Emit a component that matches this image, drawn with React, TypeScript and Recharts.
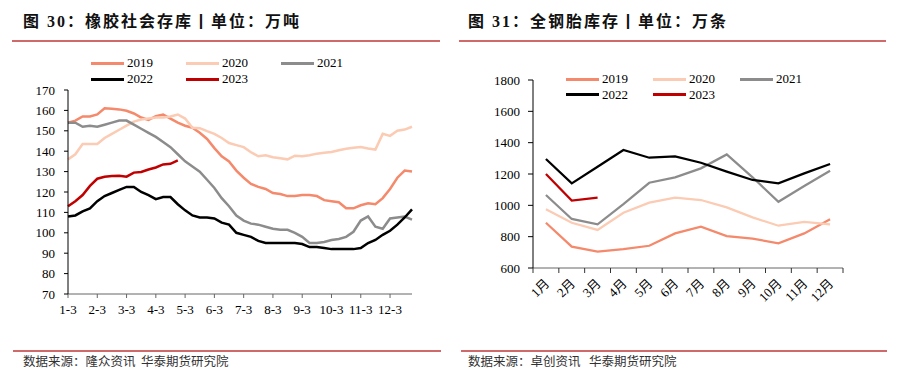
import React from 'react';
import { LineChart, Line, XAxis, YAxis } from 'recharts';

// 橡胶社会库存, weekly, 万吨
const monthNums = [1, 2, 3, 4, 5, 6, 7, 8, 9, 10, 11, 12];
const weekDays = [3, 10, 17, 24];
const weekLabels = monthNums.flatMap((m) => weekDays.map((d) => `${m}-${d}`));

const rubber2019 = [
  154, 155, 157, 157, 158, 161, 160.8, 160.5, 159.8, 158.5, 156.5, 155.3,
  157.2, 158, 156, 154, 152.5, 151.5, 149, 146, 141.5, 137.5, 135, 130.5,
  127, 124, 122.5, 121.5, 119.5, 119, 118, 118, 118.5, 118.5, 118, 116,
  115.5, 115, 112, 112, 113.5, 114.5, 114, 117, 121.5, 127, 130.5, 130,
];
const rubber2020 = [
  136, 138.5, 143.5, 143.5, 143.5, 146.5, 148.5, 150.5, 152.5, 154.5, 155.5, 156,
  156.5, 156.5, 157, 158, 156, 151.5, 151.3, 149.8, 148.5, 146.5, 144, 143,
  142, 139.5, 137.5, 138, 137, 136.5, 136, 137.8, 137.5, 138, 138.8, 139.2,
  139.6, 140.5, 141.2, 141.7, 142, 141.3, 140.8, 148.5, 147.5, 150, 150.6, 152,
];
const rubber2021 = [
  154, 154, 152, 152.5, 152, 153, 154, 155, 155, 153, 151, 149,
  147, 144.5, 142, 138.5, 135, 132.5, 130, 126, 122, 117, 113, 108.5,
  106, 104.5, 104, 103, 102, 101.5, 101.5, 100, 98, 95, 95, 95.5,
  96.5, 97, 98, 100.5, 106, 108, 103, 102, 107, 107.5, 108, 106.5,
];
const rubber2022 = [
  108, 108.5, 110.5, 112, 115.5, 118, 119.5, 121, 122.5, 122.5, 120, 118.5,
  116.5, 117.5, 117.5, 114, 111, 108.5, 107.5, 107.5, 107, 105, 104, 100,
  99, 98, 96, 95, 95, 95, 95, 95, 94.5, 93, 93, 92.5,
  92, 92, 92, 92, 92.5, 95, 96.5, 99, 101, 104, 107.5, 111.5,
];
const rubber2023 = [
  113, 115.5, 118.5, 123, 126.5, 127.5, 127.8, 128, 127.5, 129.5, 129.8, 131,
  132, 133.5, 133.8, 135.5,
];

// 全钢胎库存, monthly, 万条
const tireMonths = ['1月', '2月', '3月', '4月', '5月', '6月', '7月', '8月', '9月', '10月', '11月', '12月'];
const tire2019 = [889, 736, 704, 721, 742, 821, 864, 804, 787, 758, 821, 911];
const tire2020 = [975, 889, 843, 953, 1017, 1049, 1034, 987, 923, 870, 895, 879];
const tire2021 = [1066, 913, 879, 1008, 1144, 1179, 1236, 1325, 1179, 1023, 1123, 1221];
const tire2022 = [1296, 1140, 1246, 1353, 1304, 1312, 1272, 1215, 1162, 1140, 1204, 1264];
const tire2023 = [1200, 1030, 1049];

const years = ['2019', '2020', '2021', '2022', '2023'];
const colors: Record<string, string> = {
  '2019': '#F4896B',
  '2020': '#FBCBB3',
  '2021': '#8C8C8C',
  '2022': '#000000',
  '2023': '#C00000',
};

const rubberData = weekLabels.map((w, i) => ({
  week: w,
  '2019': rubber2019[i],
  '2020': rubber2020[i],
  '2021': rubber2021[i],
  '2022': rubber2022[i],
  '2023': rubber2023[i],
}));

const tireData = tireMonths.map((m, i) => ({
  month: m,
  '2019': tire2019[i],
  '2020': tire2020[i],
  '2021': tire2021[i],
  '2022': tire2022[i],
  '2023': tire2023[i],
}));

const serif = "'Liberation Serif', 'Times New Roman', serif";
const titleFont = "'Liberation Serif', 'Noto Sans CJK SC', sans-serif";
const cjk = "'Noto Sans CJK SC', sans-serif";
const ruleColor = '#D06A6A';

function Legend({ left, top, colGap, rowGap }: { left: number; top: number; colGap: number; rowGap: number }) {
  return (
    <>
      {years.map((y, i) => (
        <div
          key={y}
          style={{
            position: 'absolute',
            left: left + (i % 3) * colGap,
            top: top + Math.floor(i / 3) * rowGap - 8,
            height: 16,
            display: 'flex',
            alignItems: 'center',
            fontFamily: serif,
            fontSize: 13,
            color: '#000',
          }}
        >
          <span style={{ display: 'inline-block', width: 33, height: 3, background: colors[y], marginRight: 3 }} />
          {y}
        </div>
      ))}
    </>
  );
}

function Title({ left, text }: { left: number; text: string }) {
  return (
    <div
      style={{
        position: 'absolute',
        left,
        top: 8,
        fontFamily: titleFont,
        fontWeight: 700,
        fontSize: 16,
        letterSpacing: 2,
        color: '#111',
        whiteSpace: 'nowrap',
      }}
    >
      {text}
    </div>
  );
}

function Rule({ left, top, width }: { left: number; top: number; width: number }) {
  return <div style={{ position: 'absolute', left, top, width, height: 1.5, background: ruleColor }} />;
}

function Footer({ left, text }: { left: number; text: string }) {
  return (
    <div
      style={{
        position: 'absolute',
        left,
        top: 351,
        fontFamily: cjk,
        fontSize: 12.5,
        color: '#333',
        whiteSpace: 'pre',
      }}
    >
      {text}
    </div>
  );
}

// right chart plot width, used to put ticks on band edges
const tirePlotW = 310;
const halfBand = tirePlotW / 24;

function MonthTick({ x, y, payload, index }: any) {
  const last = index === tireMonths.length - 1;
  return (
    <g>
      <line x1={x - halfBand} y1={y} x2={x - halfBand} y2={y + 5} stroke="#333" />
      {last && <line x1={x + halfBand} y1={y} x2={x + halfBand} y2={y + 5} stroke="#333" />}
      <text
        x={x + 1}
        y={y + 13}
        dy="0.35em"
        textAnchor="end"
        transform={`rotate(-45, ${x + 1}, ${y + 13})`}
        fontSize={13}
        fontFamily="'Liberation Serif', 'Noto Sans CJK SC', serif"
        fill="#000"
      >
        {payload.value}
      </text>
    </g>
  );
}

export default function App() {
  return (
    <div style={{ position: 'absolute', left: 0, top: 0, width: 897, height: 375, background: '#fff', overflow: 'hidden' }}>
      <Title left={23} text="图 30：橡胶社会存库丨单位：万吨" />
      <Title left={468} text="图 31：全钢胎库存丨单位：万条" />
      <Rule left={12} top={40} width={428} />
      <Rule left={459} top={40} width={427} />

      <div style={{ position: 'absolute', left: 0, top: 0 }}>
        <LineChart width={450} height={330} data={rubberData} margin={{ top: 90, right: 38, bottom: 6, left: 8 }}>
          <XAxis
            dataKey="week"
            interval={3}
            height={30}
            tickSize={4}
            tickMargin={7}
            stroke="#666"
            tickLine={{ stroke: '#666' }}
            tick={{ fontSize: 13, fill: '#000', fontFamily: serif }}
          />
          <YAxis
            width={60}
            domain={[70, 170]}
            ticks={[70, 80, 90, 100, 110, 120, 130, 140, 150, 160, 170]}
            interval={0}
            tickSize={4}
            tickMargin={9}
            stroke="#000"
            tick={{ fontSize: 13, fill: '#000', fontFamily: serif }}
          />
          {years.map((y) => (
            <Line
              key={y}
              dataKey={y}
              stroke={colors[y]}
              strokeWidth={2.5}
              dot={false}
              isAnimationActive={false}
              connectNulls={false}
            />
          ))}
        </LineChart>
      </div>
      <Legend left={91} top={63} colGap={95} rowGap={16} />

      <div style={{ position: 'absolute', left: 450, top: 0 }}>
        <LineChart width={447} height={330} data={tireData} margin={{ top: 80, right: 54, bottom: 32, left: 23 }}>
          <XAxis
            dataKey="month"
            height={30}
            padding={{ left: halfBand, right: halfBand }}
            tickSize={0}
            tickMargin={0}
            tickLine={false}
            stroke="#666"
            interval={0}
            tick={<MonthTick />}
          />
          <YAxis
            width={60}
            domain={[600, 1800]}
            ticks={[600, 800, 1000, 1200, 1400, 1600, 1800]}
            interval={0}
            tickSize={5}
            tickMargin={8}
            stroke="#000"
            tick={{ fontSize: 13, fill: '#000', fontFamily: serif }}
          />
          {years.map((y) => (
            <Line
              key={y}
              dataKey={y}
              stroke={colors[y]}
              strokeWidth={2.25}
              dot={false}
              isAnimationActive={false}
            />
          ))}
        </LineChart>
      </div>
      <Legend left={566} top={79} colGap={87} rowGap={15.5} />

      <Rule left={13} top={350} width={428} />
      <Rule left={461} top={350} width={426} />
      <Footer left={23} text="数据来源：隆众资讯  华泰期货研究院" />
      <Footer left={468} text="数据来源：卓创资讯   华泰期货研究院" />
    </div>
  );
}
